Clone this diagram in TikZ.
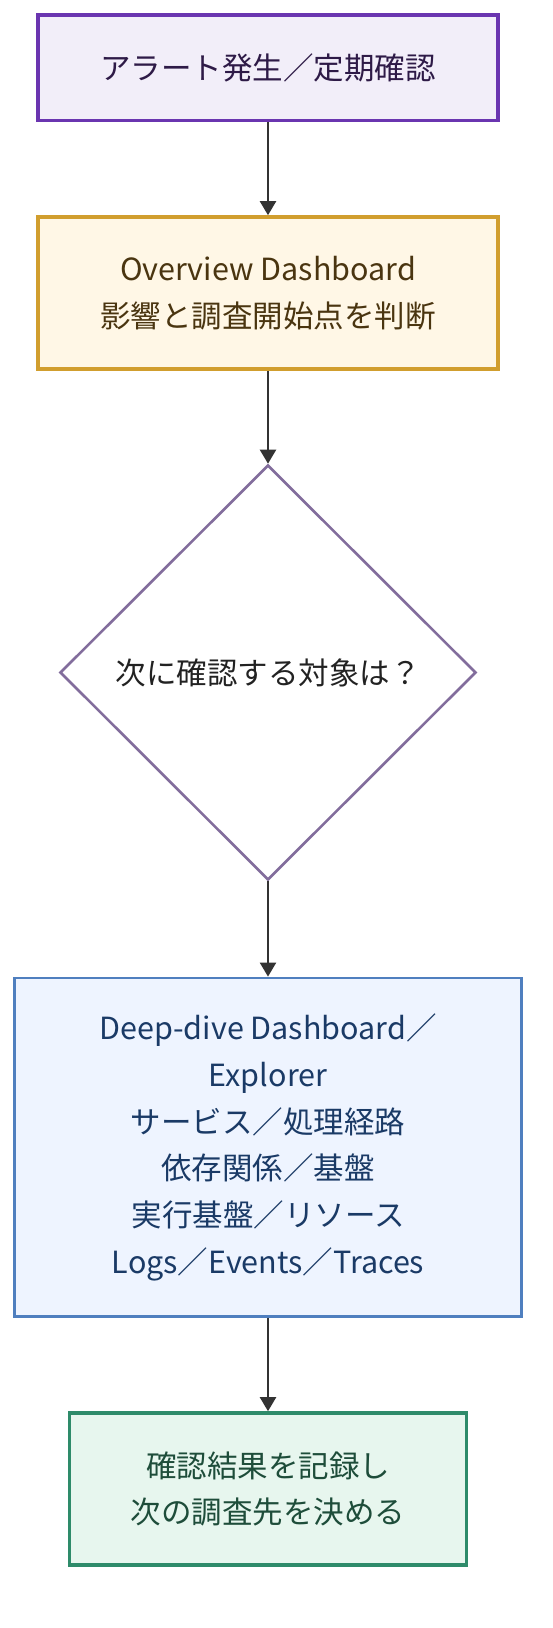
\documentclass[tikz,border=0pt]{standalone}
\usepackage{fontspec}
\setmainfont{Noto Sans CJK JP}
\usetikzlibrary{shapes.geometric,arrows.meta}
\definecolor{aBorder}{HTML}{6A35B0}
\definecolor{aFill}{HTML}{F2EEF9}
\definecolor{aText}{HTML}{2E1A47}
\definecolor{bBorder}{HTML}{D19E2E}
\definecolor{bFill}{HTML}{FFF7E6}
\definecolor{bText}{HTML}{4A3510}
\definecolor{cBorder}{HTML}{826D9C}
\definecolor{cText}{HTML}{222222}
\definecolor{dBorder}{HTML}{4F7FBF}
\definecolor{dFill}{HTML}{EEF4FF}
\definecolor{dText}{HTML}{1A3A66}
\definecolor{eBorder}{HTML}{2E8B6A}
\definecolor{eFill}{HTML}{E7F6EE}
\definecolor{eText}{HTML}{1E4D3A}
\definecolor{edge}{HTML}{333333}
\begin{document}
\begin{tikzpicture}[x=1pt,y=-1pt,
  txt/.style={align=center,font=\fontsize{30.5}{46.7}\selectfont,inner sep=0pt},
  boxA/.style={txt,rectangle,draw=aBorder,fill=aFill,text=aText,line width=3.6pt,minimum width=460pt,minimum height=105.5pt},
  boxB/.style={txt,rectangle,draw=bBorder,fill=bFill,text=bText,line width=3.6pt,minimum width=460pt,minimum height=152pt},
  decide/.style={txt,diamond,draw=cBorder,fill=white,text=cText,line width=2.6pt,minimum width=416pt,minimum height=415pt},
  boxD/.style={txt,rectangle,draw=dBorder,fill=dFill,text=dText,line width=2.8pt,minimum width=506.5pt,minimum height=338.5pt},
  boxE/.style={txt,rectangle,draw=eBorder,fill=eFill,text=eText,line width=3.6pt,minimum width=397pt,minimum height=152pt},
  conn/.style={draw=edge,line width=2.2pt,-{Triangle[width=16pt,length=14pt]}}
]
\useasboundingbox[fill=white] (0,0) rectangle (552,1628);
\node[boxA] (alert) at (268,67.75) {アラート発生／定期確認};
\node[boxB] (over) at (268,293) {Overview Dashboard\\影響と調査開始点を判断};
\node[decide] (next) at (268,672.5) {次に確認する対象は？};
\node[boxD] (deep) at (268,1147.25) {Deep-dive Dashboard／\\Explorer\\サービス／処理経路\\依存関係／基盤\\実行基盤／リソース\\Logs／Events／Traces};
\node[boxE] (rec) at (268,1489) {確認結果を記録し\\次の調査先を決める};
\draw[conn] (alert) -- (over);
\draw[conn] (over) -- (next);
\draw[conn] (next) -- (deep);
\draw[conn] (deep) -- (rec);
\end{tikzpicture}
\end{document}
